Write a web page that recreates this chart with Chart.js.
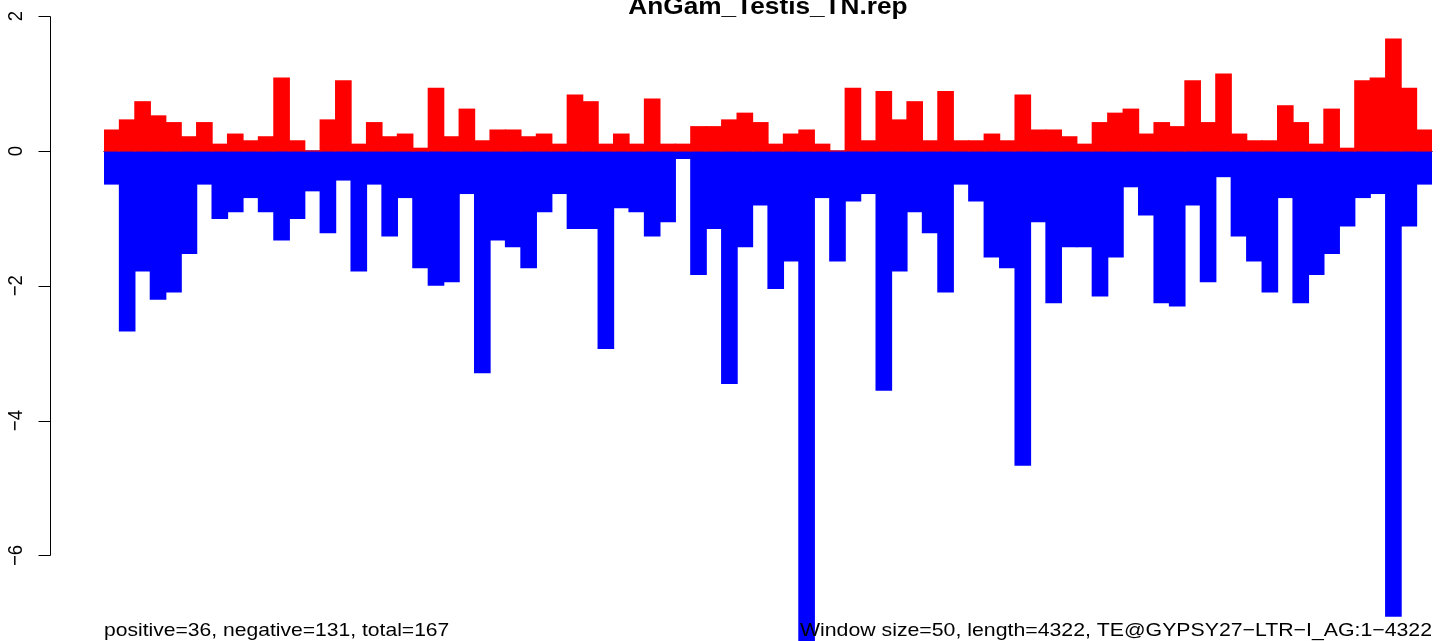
<!DOCTYPE html>
<html>
<head>
<meta charset="utf-8">
<script src="https://cdn.jsdelivr.net/npm/chart.js@4/dist/chart.umd.min.js"></script>
<style>
  html, body { margin: 0; padding: 0; background: #ffffff; overflow: hidden; }
  #wrap { width: 1444px; height: 641px; position: relative; }
</style>
</head>
<body>
<div id="wrap"><canvas id="c" width="1444" height="641"></canvas></div>
<script>
// Window index along the element (50 bp windows)
const windows = [1,2,3,4,5,6,7,8,9,10,11,12,13,14,15,16,17,18,19,20,21,22,23,24,25,26,27,28,29,30,
  31,32,33,34,35,36,37,38,39,40,41,42,43,44,45,46,47,48,49,50,51,52,53,54,55,56,57,58,59,60,
  61,62,63,64,65,66,67,68,69,70,71,72,73,74,75,76,77,78,79,80,81,82,83,84,85,86];

// Sense (positive) coverage per window
const positive = [0.31,0.46,0.73,0.52,0.42,0.21,0.42,0.10,0.25,0.15,0.21,1.08,0.15,0,0.46,1.04,0.10,0.42,0.21,0.25,0.04,0.93,
  0.21,0.62,0.15,0.31,0.31,0.21,0.25,0.10,0.83,0.73,0.10,0.25,0.10,0.77,0.10,0.10,0.36,0.36,0.46,0.56,0.42,0.10,
  0.25,0.31,0.10,0,0.93,0.15,0.88,0.46,0.73,0.15,0.88,0.15,0.15,0.25,0.15,0.83,0.31,0.31,0.21,0.10,0.42,
  0.56,0.62,0.25,0.42,0.36,1.04,0.42,1.14,0.25,0.15,0.15,0.67,0.42,0.10,0.62,0.04,1.04,1.08,1.66,0.93,0.31];

// Antisense (negative) coverage per window
const negative = [-0.49,-2.67,-1.78,-2.20,-2.09,-1.52,-0.49,-1.00,-0.90,-0.69,-0.90,-1.32,-1.00,-0.59,-1.21,-0.43,-1.78,-0.49,-1.26,-0.69,-1.73,-1.99,
  -1.94,-0.63,-3.29,-1.32,-1.42,-1.73,-0.90,-0.63,-1.15,-1.15,-2.93,-0.84,-0.90,-1.26,-1.05,-0.11,-1.83,-1.15,-3.45,-1.42,-0.80,-2.04,
  -1.63,-7.60,-0.69,-1.63,-0.74,-0.63,-3.55,-1.78,-0.90,-1.21,-2.09,-0.49,-0.74,-1.57,-1.73,-4.66,-1.05,-2.25,-1.42,-1.42,-2.15,
  -1.57,-0.53,-0.95,-2.25,-2.30,-0.80,-1.94,-0.38,-1.26,-1.63,-2.09,-0.69,-2.25,-1.83,-1.52,-1.11,-0.69,-0.63,-6.90,-1.11,-0.49];

// Y axis tick values and their labels
const yTicks = [2, 0, -2, -4, -6];
const yTickLabels = ['2', '0', '\u22122', '\u22124', '\u22126'];

const titleText = 'AnGam_Testis_TN.rep';
const leftNote = 'positive=36, negative=131, total=167';
const rightNote = 'Window size=50, length=4322, TE@GYPSY27\u2212LTR\u2212I_AG:1\u22124322';

const FONT = '"Liberation Sans", Arial, Helvetica, sans-serif';
const STRETCH = 1.14;

function drawText(ctx, text, x, y, align, font, stretch) {
  ctx.save();
  ctx.font = font;
  ctx.textBaseline = 'alphabetic';
  ctx.translate(x, y);
  ctx.scale(stretch, 1);
  ctx.textAlign = align;
  ctx.fillStyle = '#000000';
  ctx.fillText(text, 0, 0);
  ctx.restore();
}

const decorations = {
  id: 'decorations',
  beforeDatasetsDraw(chart) {
    const ctx = chart.ctx;
    const area = chart.chartArea;
    const y0 = Math.round(chart.scales.y.getPixelForValue(0)) + 0.5;
    ctx.save();
    ctx.strokeStyle = '#8c8c8c';
    ctx.lineWidth = 1;
    ctx.beginPath();
    ctx.moveTo(area.left - 1, y0);
    ctx.lineTo(area.right + 1, y0);
    ctx.stroke();
    ctx.restore();
  },
  afterDraw(chart) {
    const ctx = chart.ctx;
    const ys = chart.scales.y;
    const area = chart.chartArea;
    const axisX = 50.5;
    ctx.save();
    ctx.strokeStyle = '#000000';
    ctx.lineWidth = 1;
    ctx.beginPath();
    ctx.moveTo(axisX, Math.round(ys.getPixelForValue(yTicks[0])) + 0.5);
    ctx.lineTo(axisX, Math.round(ys.getPixelForValue(yTicks[yTicks.length - 1])) + 0.5);
    yTicks.forEach(v => {
      const py = Math.round(ys.getPixelForValue(v)) + 0.5;
      ctx.moveTo(axisX, py);
      ctx.lineTo(axisX - 12, py);
    });
    ctx.stroke();

    ctx.fillStyle = '#000000';
    ctx.font = '18.5px ' + FONT;
    ctx.textAlign = 'center';
    ctx.textBaseline = 'middle';
    yTicks.forEach((v, i) => {
      const py = ys.getPixelForValue(v);
      ctx.save();
      ctx.translate(16, py);
      ctx.rotate(-Math.PI / 2);
      ctx.scale(1, STRETCH);
      ctx.fillText(yTickLabels[i], 0, 0);
      ctx.restore();
    });
    ctx.restore();

    const cx = (area.left + area.right) / 2;
    drawText(ctx, titleText, cx, 14, 'center', 'bold 23px ' + FONT, STRETCH);
    drawText(ctx, leftNote, area.left, 636, 'left', '18.5px ' + FONT, STRETCH);
    drawText(ctx, rightNote, area.right, 636, 'right', '18.5px ' + FONT, 1.15);
  }
};

new Chart(document.getElementById('c'), {
  type: 'bar',
  data: {
    labels: windows,
    datasets: [
      { label: 'positive', data: positive, backgroundColor: '#ff0000', borderWidth: 0,
        barPercentage: 1.0, categoryPercentage: 1.0, inflateAmount: 0.6 },
      { label: 'negative', data: negative, backgroundColor: '#0000ff', borderWidth: 0,
        barPercentage: 1.0, categoryPercentage: 1.0, inflateAmount: 0.6 }
    ]
  },
  options: {
    responsive: false,
    animation: false,
    devicePixelRatio: 1,
    layout: { padding: { left: 104, right: 12, top: 0, bottom: 0 } },
    scales: {
      x: { stacked: true, display: false, grid: { display: false } },
      y: { stacked: true, display: false, min: -7.27, max: 2.24, grid: { display: false } }
    },
    plugins: {
      legend: { display: false },
      tooltip: { enabled: false },
      title: { display: false }
    }
  },
  plugins: [decorations]
});
</script>
</body>
</html>
